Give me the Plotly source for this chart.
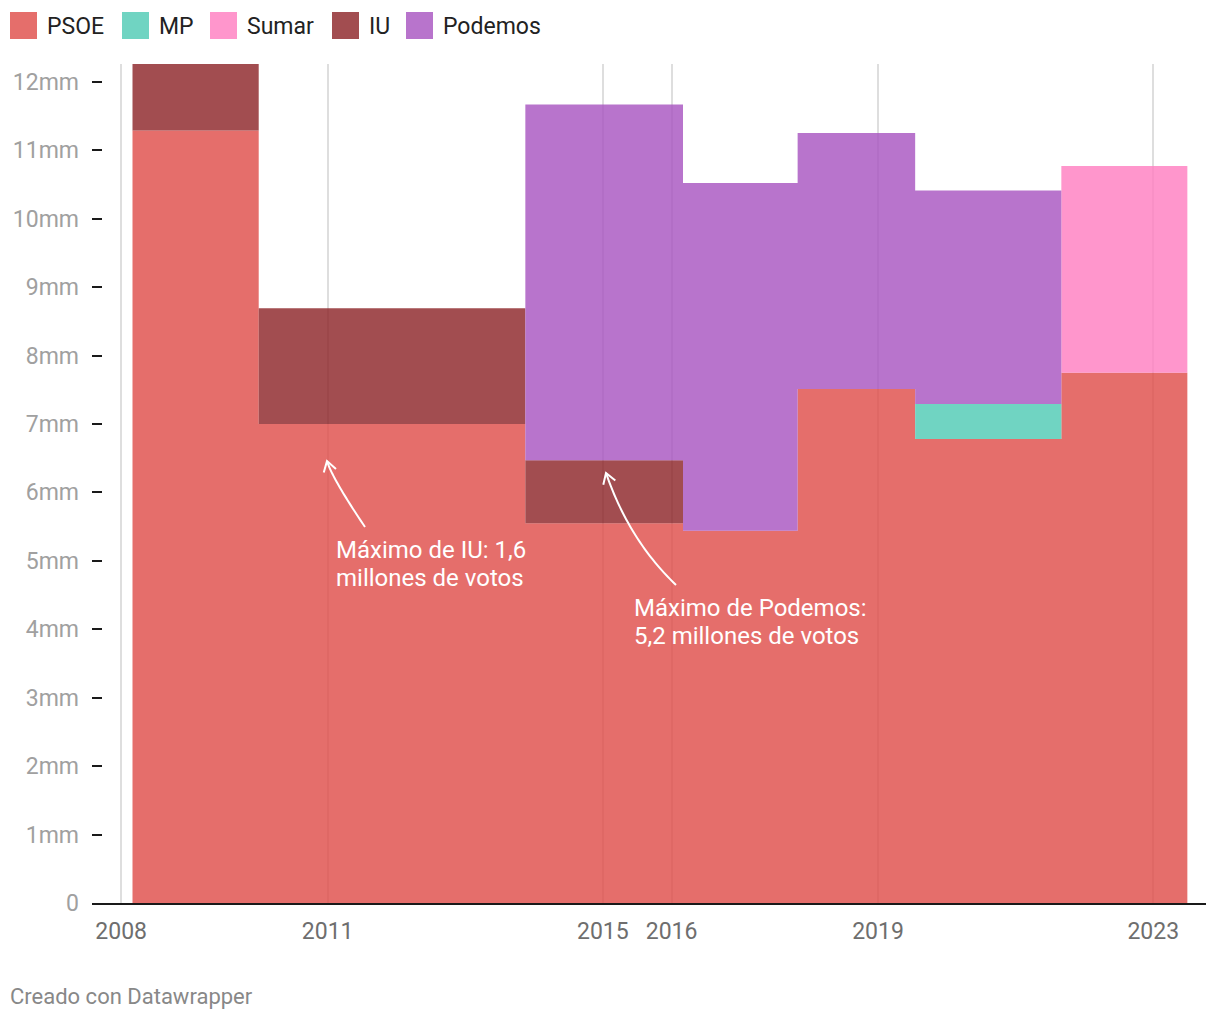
import math
import plotly.graph_objects as go

# ---------------- data ----------------
dates = ["2008-03-01", "2011-11-01", "2015-12-01", "2016-06-01",
         "2019-04-01", "2019-11-01", "2023-07-01"]
psoe = [11.29, 7.00, 5.55, 5.44, 7.51, 6.78, 7.75]
mp = [0, 0, 0, 0, 0, 0.51, 0]
sumar = [0, 0, 0, 0, 0, 0, 3.02]
iu = [0.97, 1.69, 0.92, 0, 0, 0, 0]
podemos = [0, 0, 5.20, 5.08, 3.74, 3.12, 0]

series_names = ["PSOE", "MP", "Sumar", "IU", "Podemos"]
series_values = [psoe, mp, sumar, iu, podemos]

tick_years = ["2008", "2011", "2015", "2016", "2019", "2023"]
y_ticks = list(range(0, 13))
y_tick_labels = ["0"] + [f"{v}mm" for v in y_ticks[1:]]

# ---------------- styles ----------------
ALPHA = 0.82
legend_colors = {
    "PSOE": (229, 110, 107),
    "MP": (112, 212, 194),
    "Sumar": (255, 150, 204),
    "IU": (162, 77, 80),
    "Podemos": (184, 116, 204),
}


def fill_rgba(rgb):
    c = [max(0, min(255, round((t - (1 - ALPHA) * 255) / ALPHA))) for t in rgb]
    return f"rgba({c[0]},{c[1]},{c[2]},{ALPHA})"


def hexrgb(rgb):
    return "#%02x%02x%02x" % rgb


fig = go.Figure()
for name, vals in zip(series_names, series_values):
    fig.add_trace(go.Scatter(
        x=dates, y=vals, name=name, stackgroup="one",
        mode="lines", line=dict(shape="hvh", width=0),
        fillcolor=fill_rgba(legend_colors[name]),
        showlegend=False, hoverinfo="skip",
    ))

ymax = max(sum(v) for v in zip(*series_values))

# plot area geometry in pixels (for overlays)
W, H = 1220, 1020
ML, MR, MT, MB = 92, 14, 64, 117
PW, PH = W - ML - MR, H - MT - MB


def px(x, y):
    return (x - ML) / PW, (H - MB - y) / PH


shapes = []
annotations = []

# custom legend
leg_x = [10, 122, 210, 332, 406]
for name, lx in zip(series_names, leg_x):
    x0, y0 = px(lx, 39)
    x1, y1 = px(lx + 27, 12)
    shapes.append(dict(type="rect", xref="paper", yref="paper",
                       x0=x0, y0=y0, x1=x1, y1=y1,
                       fillcolor=hexrgb(legend_colors[name]), line=dict(width=0)))
    tx, ty = px(lx + 35, 26)
    annotations.append(dict(xref="paper", yref="paper", x=tx, y=ty,
                            text=name, showarrow=False, xanchor="left",
                            yanchor="middle",
                            font=dict(size=23, color="#222222")))


# curved arrows
def curved_arrow(p0, p1, p2, headlen=12, ang=32):
    pts = []
    n = 30
    for i in range(n + 1):
        t = i / n
        x = (1 - t) ** 2 * p0[0] + 2 * (1 - t) * t * p1[0] + t ** 2 * p2[0]
        y = (1 - t) ** 2 * p0[1] + 2 * (1 - t) * t * p1[1] + t ** 2 * p2[1]
        pts.append(px(x, y))
    path = "M " + " L ".join(f"{a:.5f},{b:.5f}" for a, b in pts)
    shapes.append(dict(type="path", xref="paper", yref="paper", path=path,
                       line=dict(color="white", width=2)))
    dx, dy = p2[0] - p1[0], p2[1] - p1[1]
    base = math.atan2(-dy, -dx)
    arms = []
    for s in (-1, 1):
        a = base + s * math.radians(ang)
        arms.append((p2[0] + headlen * math.cos(a), p2[1] + headlen * math.sin(a)))
    hp = [px(*arms[0]), px(*p2), px(*arms[1])]
    path = "M " + " L ".join(f"{a:.5f},{b:.5f}" for a, b in hp)
    shapes.append(dict(type="path", xref="paper", yref="paper", path=path,
                       line=dict(color="white", width=2)))


curved_arrow((365, 527), (332, 478), (327, 461))
curved_arrow((676, 585), (629, 540), (606, 473))

note_lines = [
    ("Máximo de IU: 1,6", 334, 550),
    ("millones de votos", 334, 578),
    ("Máximo de Podemos:", 632, 608),
    ("5,2 millones de votos", 632, 636),
]
for text, tx, ty in note_lines:
    ax_, ay_ = px(tx, ty)
    annotations.append(dict(xref="paper", yref="paper", x=ax_, y=ay_, text=text,
                            showarrow=False, xanchor="left", yanchor="middle",
                            align="left", font=dict(size=24, color="white")))

fx, fy = px(8, 997)
annotations.append(dict(xref="paper", yref="paper", x=fx, y=fy,
                        text="Creado con Datawrapper", showarrow=False,
                        xanchor="left", yanchor="middle",
                        font=dict(size=22, color="#888888")))

fig.update_layout(
    width=W, height=H,
    margin=dict(l=ML, r=MR, t=MT, b=MB, pad=0),
    paper_bgcolor="white", plot_bgcolor="white",
    font=dict(family="Roboto", size=22),
    showlegend=False,
    shapes=shapes, annotations=annotations,
    xaxis=dict(
        type="date",
        range=["2007-07-30", "2023-10-08"],
        tickvals=[f"{y}-01-01" for y in tick_years],
        ticktext=tick_years,
        showgrid=True, gridcolor="#dedede", gridwidth=1.5,
        showline=True, linecolor="#1a1a1a", linewidth=2,
        ticks="", tickfont=dict(size=23, color="#6e6e6e"),
        ticklabelstandoff=6,
        zeroline=False, fixedrange=True,
    ),
    yaxis=dict(
        range=[0, ymax],
        tickvals=y_ticks, ticktext=y_tick_labels,
        showgrid=False, zeroline=False, showline=False,
        ticks="inside", ticklen=10, tickwidth=2, tickcolor="#1a1a1a",
        ticklabelstandoff=12,
        tickfont=dict(size=23, color="#a0a0a0"),
        fixedrange=True,
    ),
)

fig.write_html("out.html", config={"displayModeBar": False},
               post_script="document.body.style.margin='0';")
